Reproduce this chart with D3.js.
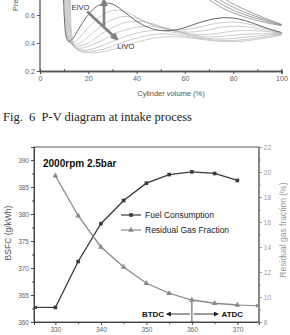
<!DOCTYPE html>
<html><head><meta charset="utf-8">
<script src="https://cdn.jsdelivr.net/npm/d3@7"></script>
<style>body{margin:0;background:#fff}svg{display:block}</style>
</head><body>
<svg id="c" width="290" height="335" font-family="Liberation Sans, Arial, sans-serif"></svg>
<script>
// ---------- Top chart (P-V diagram, intake process) ----------
const pvXTicks = [0,20,40,60,80,100];
const pvYTicks = [0.2,0.4,0.6];
const pvIntake = [
 [[9.6,0.9],[9.8,0.7],[10.2,0.55],[10.8,0.45],[11.8,0.41],[13.5,0.43],[16,0.5],[19,0.58],[22,0.64],[25,0.675],[28,0.685],[31,0.67],[35,0.62],[40,0.555],[45,0.51],[50,0.49],[55,0.49],[60,0.51],[65,0.54],[70,0.565],[75,0.58],[80,0.578],[85,0.56],[90,0.53],[95,0.5],[100,0.475]],
 [[10,0.9],[10.2,0.7],[10.6,0.55],[11.2,0.44],[12.5,0.4],[14.5,0.41],[17,0.45],[20,0.51],[24,0.575],[28,0.62],[32,0.635],[36,0.62],[40,0.585],[45,0.54],[50,0.51],[55,0.495],[60,0.495],[65,0.51],[70,0.53],[75,0.545],[80,0.55],[85,0.54],[90,0.52],[95,0.495],[100,0.472]],
 [[10.4,0.9],[10.6,0.7],[11,0.54],[11.7,0.43],[13.5,0.39],[16,0.395],[19,0.43],[23,0.49],[27,0.54],[31,0.575],[36,0.59],[41,0.57],[46,0.535],[52,0.5],[58,0.48],[64,0.48],[70,0.495],[76,0.515],[82,0.52],[88,0.51],[94,0.49],[100,0.47]],
 [[10.8,0.9],[11,0.7],[11.4,0.53],[12.2,0.42],[14,0.38],[17,0.38],[21,0.41],[25,0.46],[30,0.51],[35,0.545],[40,0.555],[45,0.545],[50,0.52],[56,0.49],[62,0.465],[68,0.46],[74,0.47],[80,0.485],[86,0.49],[92,0.485],[100,0.468]],
 [[11.2,0.9],[11.4,0.7],[11.8,0.52],[12.7,0.41],[14.5,0.37],[18,0.365],[22,0.39],[27,0.43],[32,0.475],[38,0.505],[44,0.52],[50,0.51],[56,0.485],[62,0.46],[68,0.445],[74,0.445],[80,0.455],[88,0.465],[94,0.467],[100,0.465]],
 [[11.6,0.9],[11.8,0.7],[12.2,0.51],[13.2,0.4],[15,0.36],[19,0.35],[24,0.37],[29,0.405],[35,0.445],[41,0.475],[48,0.49],[54,0.48],[60,0.46],[66,0.44],[72,0.43],[78,0.43],[84,0.44],[90,0.45],[95,0.458],[100,0.462]],
 [[12,0.9],[12.2,0.7],[12.6,0.5],[13.7,0.39],[16,0.35],[20,0.34],[26,0.355],[32,0.39],[38,0.425],[45,0.455],[52,0.465],[58,0.455],[64,0.44],[70,0.425],[76,0.418],[82,0.42],[88,0.432],[94,0.447],[100,0.46]],
 [[12.4,0.9],[12.6,0.7],[13,0.49],[14.2,0.38],[16.5,0.34],[21,0.33],[27,0.34],[33,0.37],[40,0.405],[47,0.435],[54,0.445],[60,0.44],[66,0.428],[72,0.415],[78,0.41],[84,0.413],[90,0.427],[95,0.44],[100,0.458]]
];
const pvUpper = [
 [[62,0.9],[66,0.78],[70,0.71],[75,0.655],[80,0.615],[85,0.585],[90,0.56],[95,0.54],[100,0.525]],
 [[64,0.9],[68,0.78],[72,0.712],[77,0.66],[82,0.62],[87,0.59],[92,0.565],[96,0.545],[100,0.528]],
 [[66,0.9],[70,0.78],[74,0.715],[79,0.665],[84,0.625],[89,0.593],[93,0.568],[97,0.547],[100,0.53]],
 [[68,0.9],[72,0.78],[76,0.72],[81,0.67],[86,0.63],[90,0.6],[94,0.572],[97.5,0.55],[100,0.533]]
];

// ---------- Bottom chart (BSFC & residual gas fraction) ----------
const crank = [330,335,340,345,350,355,360,365,370];
const fuel = [362.7,371.2,378.2,382.5,385.7,387.3,387.8,387.5,386.2];
const rgf = [19.7,16.5,14.0,12.4,11.1,10.3,9.76,9.5,9.36];
const fuelExtend = [[325.5,362.7],[330,362.7]];
const rgfExtend = [[370,9.36],[374.5,9.3]];
const crankTicks = [330,340,350,360,370];
const bsfcTicks = [360,365,370,375,380,385,390];
const rgfTicks = [8,10,12,14,16,18,20,22];
const legendNames = ["Fuel Consumption","Residual Gas Fraction"];

const svg = d3.select("#c");
svg.append("rect").attr("width",290).attr("height",335).attr("fill","#fff");
const defs = svg.append("defs");

// ===== Top chart =====
const px = d3.scaleLinear().domain([0,100]).range([40,281.5]);
const py = d3.scaleLinear().domain([0.2,0.6]).range([71,15]);
const topG = svg.append("g");
const pvLine = d3.line().x(d=>px(d[0])).y(d=>py(d[1])).curve(d3.curveCatmullRom);
pvUpper.forEach(c=>topG.append("path").attr("d",pvLine(c)).attr("fill","none").attr("stroke","#777").attr("stroke-width",0.7));
pvIntake.slice().reverse().forEach((c,i)=>topG.append("path").attr("d",pvLine(c)).attr("fill","none")
  .attr("stroke", i===pvIntake.length-1 ? "#666" : "#aaa").attr("stroke-width", i===pvIntake.length-1?1:0.6));
function marker(id,color,w,h,ref){
  defs.append("marker").attr("id",id).attr("viewBox","0 0 10 10").attr("refX",ref).attr("refY",5)
   .attr("markerWidth",w).attr("markerHeight",h).attr("orient","auto").attr("markerUnits","userSpaceOnUse")
   .append("path").attr("d","M0,0L10,5L0,10z").attr("fill",color);
}
marker("ag","#808080",9,8,8);
marker("ak","#222",6,5,8);
topG.append("line").attr("x1",px(19.5)).attr("y1",py(0.625)).attr("x2",px(32)).attr("y2",py(0.425))
  .attr("stroke","#808080").attr("stroke-width",2.6).attr("marker-end","url(#ag)");
topG.append("line").attr("x1",px(26.5)).attr("y1",py(0.52)).attr("x2",px(26.5)).attr("y2",py(0.71))
  .attr("stroke","#808080").attr("stroke-width",2.6).attr("marker-end","url(#ag)");
topG.append("text").attr("x",px(13)).attr("y",py(0.635)).attr("font-size",7.5).attr("fill","#333").text("EIVO");
topG.append("text").attr("x",px(32)).attr("y",py(0.36)).attr("font-size",7.5).attr("fill","#333").text("LIVO");
const ax1 = topG.append("g").attr("transform","translate(0,71)")
  .call(d3.axisBottom(px).tickValues(pvXTicks).tickSize(3).tickPadding(2));
ax1.append("g").call(d3.axisTop(px).tickValues([10,30,50,70,90]).tickSize(2).tickFormat(""));
const ay1 = topG.append("g").attr("transform","translate(40,0)")
  .call(d3.axisLeft(py).tickValues(pvYTicks).tickSize(3).tickPadding(2).tickFormat(d3.format(".1f")));
[ax1,ay1].forEach(a=>{a.attr("font-family",null).attr("font-size",null);
  a.selectAll(".domain").attr("stroke","#555").attr("stroke-width",1.3);
  a.selectAll("line").attr("stroke","#555");
  a.selectAll("text").attr("font-size",7.2).attr("fill","#666");});
ay1.select(".domain").attr("d","M0,-5V71");
topG.append("text").attr("transform","translate(18,11) rotate(-90)").attr("font-size",7.5).attr("fill","#555").text("Pressure (bar)");
topG.append("text").attr("x",171).attr("y",96).attr("text-anchor","middle").attr("font-size",7.5).attr("fill","#555").text("Cylinder  volume (%)");

svg.append("text").attr("x",3).attr("y",121).attr("font-family","Liberation Serif, Times New Roman, serif")
  .attr("font-size",12.5).attr("fill","#222").attr("xml:space","preserve").text("Fig.  6  P-V diagram at intake process");

// ===== Bottom chart =====
const x = d3.scaleLinear().domain([325.3,374.7]).range([34,258.8]);
const yL = d3.scaleLinear().domain([360,392.4]).range([322,147]);
const yR = d3.scaleLinear().domain([8,22]).range([322,147]);
const g = svg.append("g");
g.append("rect").attr("x",34).attr("y",147).attr("width",224.8).attr("height",175).attr("fill","none").attr("stroke","#555").attr("stroke-width",1);

const bx = g.append("g").attr("transform","translate(0,322)")
  .call(d3.axisBottom(x).tickValues(crankTicks).tickSize(3).tickPadding(2));
bx.append("g").call(d3.axisBottom(x).tickValues([335,345,355,365]).tickSize(2).tickFormat(""));
const bl = g.append("g").attr("transform","translate(34,0)")
  .call(d3.axisLeft(yL).tickValues(bsfcTicks).tickSize(3).tickPadding(2));
bl.append("g").call(d3.axisLeft(yL).tickValues([362.5,367.5,372.5,377.5,382.5,387.5]).tickSize(2).tickFormat(""));
const br = g.append("g").attr("transform","translate(258.8,0)")
  .call(d3.axisRight(yR).tickValues(rgfTicks).tickSize(3).tickPadding(2));
br.append("g").call(d3.axisRight(yR).tickValues([9,11,13,15,17,19,21]).tickSize(2).tickFormat(""));
[bx,bl,br].forEach(a=>a.attr("font-family",null).attr("font-size",null));
[bx,bl].forEach(a=>{a.selectAll(".domain").attr("stroke","#444");a.selectAll("line").attr("stroke","#444");
  a.selectAll("text").attr("font-size",6.5).attr("fill","#666");});
br.selectAll(".domain").attr("stroke","#888");br.selectAll("line").attr("stroke","#888");
br.selectAll("text").attr("font-size",6.5).attr("fill","#999");

g.append("line").attr("x1",x(360)).attr("x2",x(360)).attr("y1",299).attr("y2",322).attr("stroke","#222").attr("stroke-width",0.8);
g.append("line").attr("x1",x(359.6)).attr("x2",x(354.5)).attr("y1",314).attr("y2",314).attr("stroke","#222").attr("stroke-width",0.9).attr("marker-end","url(#ak)");
g.append("line").attr("x1",x(360.4)).attr("x2",x(365.7)).attr("y1",314).attr("y2",314).attr("stroke","#222").attr("stroke-width",0.9).attr("marker-end","url(#ak)");
g.append("text").attr("x",x(353.9)).attr("y",317).attr("text-anchor","end").attr("font-size",8).attr("font-weight","bold").attr("fill","#111").text("BTDC");
g.append("text").attr("x",x(366.5)).attr("y",317).attr("font-size",8).attr("font-weight","bold").attr("fill","#111").text("ATDC");

const fuelPts = crank.map((c,i)=>[c,fuel[i]]);
const rgfPts = crank.map((c,i)=>[c,rgf[i]]);
const fuelColor="#3a3a3a", rgfColor="#8a8a8a";
marker("af",fuelColor,5,4,5);
marker("ar",rgfColor,5,4,5);
const lL = d3.line().x(d=>x(d[0])).y(d=>yL(d[1]));
const lR = d3.line().x(d=>x(d[0])).y(d=>yR(d[1]));
g.append("path").attr("d",lL(fuelExtend.slice().reverse())).attr("fill","none").attr("stroke",fuelColor).attr("stroke-width",1.2).attr("marker-end","url(#af)");
g.append("path").attr("d",lR(rgfExtend)).attr("fill","none").attr("stroke",rgfColor).attr("stroke-width",1.2).attr("marker-end","url(#ar)");
g.append("path").attr("d",lL(fuelPts)).attr("fill","none").attr("stroke",fuelColor).attr("stroke-width",1.3);
g.append("path").attr("d",lR(rgfPts)).attr("fill","none").attr("stroke",rgfColor).attr("stroke-width",1.3);
const sq = d3.symbol().type(d3.symbolSquare).size(13);
const tri = d3.symbol().type(d3.symbolTriangle).size(14);
g.selectAll(".fp").data(fuelPts).join("path").attr("d",sq).attr("transform",d=>`translate(${x(d[0])},${yL(d[1])})`).attr("fill",fuelColor);
g.selectAll(".rp").data(rgfPts).join("path").attr("d",tri).attr("transform",d=>`translate(${x(d[0])},${yR(d[1])})`).attr("fill",rgfColor);

g.append("text").attr("x",43).attr("y",167).attr("font-size",10).attr("font-weight","bold").attr("fill","#111").text("2000rpm 2.5bar");
[[fuelColor,sq],[rgfColor,tri]].forEach((s,i)=>{
  const yy = 215 + i*15;
  g.append("line").attr("x1",121).attr("x2",141).attr("y1",yy).attr("y2",yy).attr("stroke",s[0]).attr("stroke-width",1.2);
  g.append("path").attr("d",s[1]).attr("transform",`translate(131,${yy})`).attr("fill",s[0]);
  g.append("text").attr("x",145).attr("y",yy+3).attr("font-size",8.5).attr("fill","#222").text(legendNames[i]);
});
g.append("text").attr("transform","translate(11,233) rotate(-90)").attr("text-anchor","middle").attr("font-size",8.5).attr("fill","#555").text("BSFC (g/kWh)");
g.append("text").attr("transform","translate(286,230) rotate(-90)").attr("text-anchor","middle").attr("font-size",8.5).attr("fill","#999").text("Residual  gas  fraction (%)");
</script>
</body></html>
